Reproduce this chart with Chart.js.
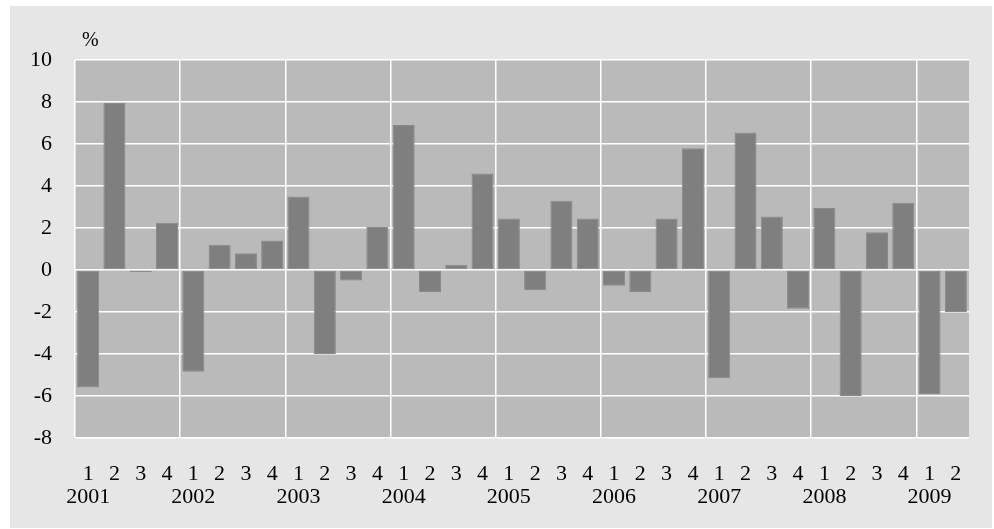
<!DOCTYPE html>
<html>
<head>
<meta charset="utf-8">
<script src="https://cdn.jsdelivr.net/npm/chart.js@4/dist/chart.umd.min.js"></script>
<style>
  html, body { margin: 0; padding: 0; background: #ffffff; }
  #wrap { position: absolute; left: 0; top: 0; width: 994px; height: 529px; }
</style>
</head>
<body>
<div id="wrap"><canvas id="c" width="994" height="529"></canvas></div>
<script>
const years = ["2001","2002","2003","2004","2005","2006","2007","2008","2009"];
const quarters = ["1","2","3","4"];
const categories = [
  "2001-1","2001-2","2001-3","2001-4",
  "2002-1","2002-2","2002-3","2002-4",
  "2003-1","2003-2","2003-3","2003-4",
  "2004-1","2004-2","2004-3","2004-4",
  "2005-1","2005-2","2005-3","2005-4",
  "2006-1","2006-2","2006-3","2006-4",
  "2007-1","2007-2","2007-3","2007-4",
  "2008-1","2008-2","2008-3","2008-4",
  "2009-1","2009-2"
];
const values = [
  -5.6, 7.95, -0.1, 2.25,
  -4.85, 1.2, 0.8, 1.4,
  3.5, -4.0, -0.5, 2.05,
  6.9, -1.05, 0.25, 4.6,
  2.45, -0.95, 3.3, 2.45,
  -0.75, -1.05, 2.45, 5.8,
  -5.15, 6.55, 2.55, -1.85,
  2.95, -6.0, 1.8, 3.2,
  -5.9, -2.0
];
const yTicks = [-8, -6, -4, -2, 0, 2, 4, 6, 8, 10];
const unitLabel = "%";

const labels = categories.map(c => {
  const [y, q] = c.split("-");
  return q === quarters[0] ? [q, y] : [q, ""];
});

const FONT = "'Liberation Serif', 'Times New Roman', serif";

const bgPlugin = {
  id: 'bg',
  beforeDraw(chart) {
    const ctx = chart.ctx;
    const a = chart.chartArea;
    ctx.save();
    ctx.fillStyle = '#e6e6e6';
    ctx.fillRect(10, 6, 982, 522);
    ctx.fillStyle = '#bababa';
    ctx.fillRect(a.left, a.top, a.right - a.left, a.bottom - a.top);
    ctx.restore();
  },
  afterDraw(chart) {
    const ctx = chart.ctx;
    const a = chart.chartArea;
    ctx.save();
    ctx.fillStyle = '#000';
    ctx.font = "20px " + FONT;
    ctx.textAlign = 'left';
    ctx.textBaseline = 'middle';
    ctx.fillText(unitLabel, a.left + 7, a.top - 19);
    ctx.restore();
  }
};

new Chart(document.getElementById('c'), {
  type: 'bar',
  data: {
    labels: labels,
    datasets: [{
      data: values,
      backgroundColor: '#7f7f7f',
      borderColor: '#8a8a8a',
      borderWidth: 1,
      borderSkipped: false,
      barPercentage: 0.84,
      categoryPercentage: 1.0
    }]
  },
  options: {
    responsive: false,
    animation: false,
    devicePixelRatio: 1,
    layout: { padding: { top: 60, right: 25, bottom: 0, left: 10 } },
    plugins: { legend: { display: false }, tooltip: { enabled: false } },
    scales: {
      x: {
        offset: true,
        border: { display: false },
        grid: {
          offset: true,
          drawTicks: false,
          lineWidth: 1.5,
          color: ctx => (ctx.index % 4 === 0 ? '#ffffff' : 'rgba(0,0,0,0)')
        },
        ticks: {
          autoSkip: false,
          maxRotation: 0,
          minRotation: 0,
          padding: 25,
          color: '#000',
          font: { family: FONT, size: 22, lineHeight: 1.05 }
        },
        afterFit(scale) { scale.height = 91; }
      },
      y: {
        min: -8,
        max: 10,
        border: { display: false },
        afterBuildTicks(scale) { scale.ticks = yTicks.map(v => ({ value: v })); },
        grid: { drawTicks: false, color: '#ffffff', lineWidth: 1.5 },
        ticks: {
          padding: 23,
          color: '#000',
          font: { family: FONT, size: 22 }
        },
        afterFit(scale) { scale.width = 65; }
      }
    }
  },
  plugins: [bgPlugin]
});
</script>
</body>
</html>
